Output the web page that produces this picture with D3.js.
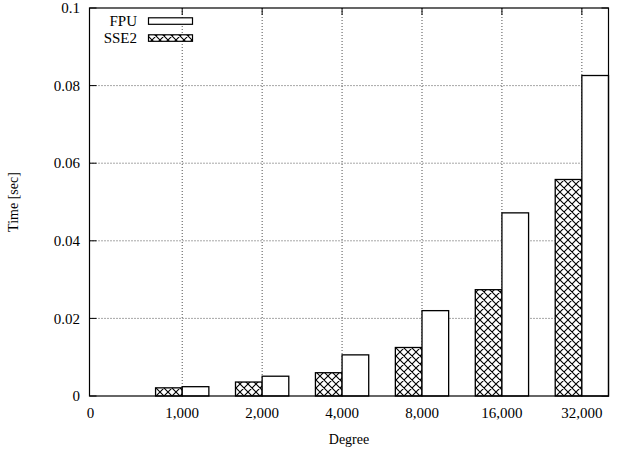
<!DOCTYPE html>
<html lang="en">
<head>
    <script src="https://cdn.jsdelivr.net/npm/d3@7"></script>
    <style>
        body { margin: 0; background: #fff; }
        text { font-family: "Liberation Serif", "Times New Roman", serif; fill: #000; }
    </style>
</head>
<body>
    <svg width="618" height="452"></svg>
    <script>
            var degrees = ["1,000", "2,000", "4,000", "8,000", "16,000", "32,000"];
            var sse2 = [0.0021, 0.0036, 0.0060, 0.0125, 0.0274, 0.0558];
            var fpu = [0.0024, 0.0051, 0.0106, 0.0220, 0.0472, 0.0826];
            var yTicks = [0, 0.02, 0.04, 0.06, 0.08, 0.1];
            var yTickLabels = ["0", "0.02", "0.04", "0.06", "0.08", "0.1"];
            var seriesNames = ["FPU", "SSE2"];

            var svg = d3.select("svg");
            var plotLeft = 89.5, plotRight = 608.5, plotTop = 8, plotBottom = 396;

            // clusters sit at 1..6, the extra "0" label at the left edge
            var xScale = d3.scaleLinear().domain([-0.16, 6.3333]).range([plotLeft, plotRight]);
            var yScale = d3.scaleLinear().domain([0, 0.1]).range([plotBottom, plotTop]);
            var barW = xScale(1 / 3) - xScale(0);

            // cross hatch for the SSE2 bars
            var p = 8;
            var pat = svg.append("defs").append("pattern")
                .attr("id", "hatch")
                .attr("patternUnits", "userSpaceOnUse")
                .attr("width", p)
                .attr("height", p);
            pat.append("rect").attr("width", p).attr("height", p).attr("fill", "#fff");
            pat.append("path")
                .attr("d", "M0,0L" + p + "," + p + "M" + p + ",0L0," + p +
                           "M-1," + (p - 1) + "L1," + (p + 1) + "M" + (p - 1) + ",-1L" + (p + 1) + ",1")
                .attr("stroke", "#000")
                .attr("stroke-width", 1.1);

            var g = svg.append("g");

            // grid lines
            g.selectAll(".hgrid")
                .data(yTicks.slice(1, -1))
                .enter().append("line")
                .attr("x1", plotLeft).attr("x2", plotRight)
                .attr("y1", function(d) { return yScale(d); })
                .attr("y2", function(d) { return yScale(d); })
                .attr("stroke", "#222").attr("stroke-width", 0.8)
                .attr("stroke-dasharray", "1,2");

            g.selectAll(".vgrid")
                .data(degrees)
                .enter().append("line")
                .attr("x1", function(d, i) { return xScale(i + 1); })
                .attr("x2", function(d, i) { return xScale(i + 1); })
                .attr("y1", plotTop).attr("y2", plotBottom)
                .attr("stroke", "#222").attr("stroke-width", 0.8)
                .attr("stroke-dasharray", "1,2");

            // ticks, mirrored on both sides
            yTicks.forEach(function(v) {
                var y = yScale(v);
                g.append("line").attr("x1", plotLeft).attr("x2", plotLeft + 7).attr("y1", y).attr("y2", y).attr("stroke", "#000");
                g.append("line").attr("x1", plotRight - 7).attr("x2", plotRight).attr("y1", y).attr("y2", y).attr("stroke", "#000");
            });
            degrees.forEach(function(d, i) {
                var x = xScale(i + 1);
                g.append("line").attr("x1", x).attr("x2", x).attr("y1", plotTop).attr("y2", plotTop + 7).attr("stroke", "#000");
                g.append("line").attr("x1", x).attr("x2", x).attr("y1", plotBottom - 7).attr("y2", plotBottom).attr("stroke", "#000");
            });

            // the bars
            g.selectAll(".sse2")
                .data(sse2)
                .enter().append("rect")
                .attr("x", function(d, i) { return xScale(i + 1) - barW; })
                .attr("y", function(d) { return yScale(d); })
                .attr("width", barW)
                .attr("height", function(d) { return plotBottom - yScale(d); })
                .attr("fill", "url(#hatch)")
                .attr("stroke", "#000").attr("stroke-width", 1.3);

            g.selectAll(".fpu")
                .data(fpu)
                .enter().append("rect")
                .attr("x", function(d, i) { return xScale(i + 1); })
                .attr("y", function(d) { return yScale(d); })
                .attr("width", barW)
                .attr("height", function(d) { return plotBottom - yScale(d); })
                .attr("fill", "#fff")
                .attr("stroke", "#000").attr("stroke-width", 1.3);

            // frame
            g.append("rect")
                .attr("x", plotLeft).attr("y", plotTop)
                .attr("width", plotRight - plotLeft).attr("height", plotBottom - plotTop)
                .attr("fill", "none").attr("stroke", "#000").attr("stroke-width", 1.2);

            // tick labels
            g.selectAll(".ylab")
                .data(yTicks)
                .enter().append("text")
                .attr("x", 80)
                .attr("y", function(d) { return yScale(d); })
                .attr("dy", "0.35em")
                .attr("text-anchor", "end")
                .attr("font-size", "15px")
                .text(function(d, i) { return yTickLabels[i]; });

            g.append("text")
                .attr("x", plotLeft + 1)
                .attr("y", 418)
                .attr("text-anchor", "middle")
                .attr("font-size", "15px")
                .text("0");

            g.selectAll(".xlab")
                .data(degrees)
                .enter().append("text")
                .attr("x", function(d, i) { return xScale(i + 1); })
                .attr("y", 418)
                .attr("text-anchor", "middle")
                .attr("font-size", "15px")
                .text(function(d) { return d; });

            // axis titles
            svg.append("text")
                .attr("x", (plotLeft + plotRight) / 2)
                .attr("y", 444)
                .attr("text-anchor", "middle")
                .attr("font-size", "14px")
                .text("Degree");

            svg.append("text")
                .attr("transform", "translate(18," + ((plotTop + plotBottom) / 2) + ") rotate(-90)")
                .attr("text-anchor", "middle")
                .attr("font-size", "14px")
                .text("Time [sec]");

            // legend
            var legend = svg.append("g");
            seriesNames.forEach(function(name, i) {
                var y = 21 + i * 17;
                legend.append("text")
                    .attr("x", 137).attr("y", y)
                    .attr("dy", "0.35em")
                    .attr("text-anchor", "end")
                    .attr("font-size", "15px")
                    .text(name);
                legend.append("rect")
                    .attr("x", 148.5).attr("y", y - 3.2)
                    .attr("width", 44).attr("height", 6.5)
                    .attr("fill", i === 0 ? "#fff" : "url(#hatch)")
                    .attr("stroke", "#000").attr("stroke-width", 1.2);
            });
    </script>
</body>
</html>
